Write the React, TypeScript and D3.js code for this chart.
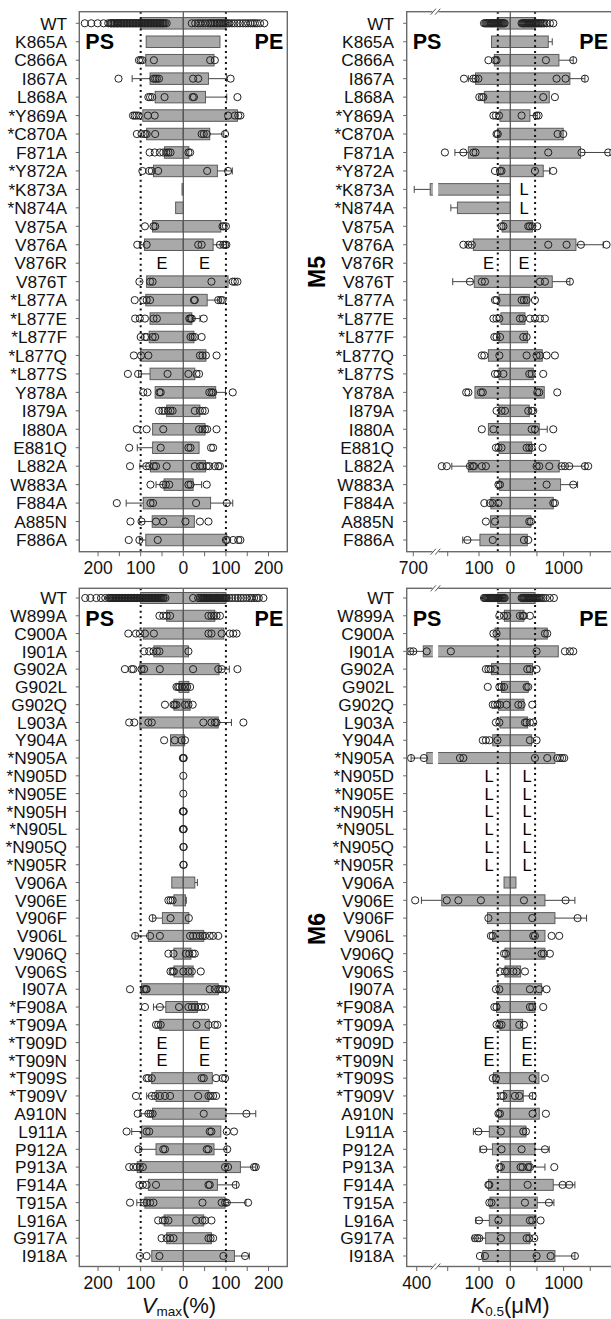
import { useEffect, useRef } from 'react'
import * as d3 from 'd3'

// ---- M5 rows ----
const M5_ROWS = ['WT', 'K865A', 'C866A', 'I867A', 'L868A', '*Y869A', '*C870A', 'F871A', '*Y872A', '*K873A', '*N874A', 'V875A', 'V876A', 'V876R', 'V876T', '*L877A', '*L877E', '*L877F', '*L877Q', '*L877S', 'Y878A', 'I879A', 'I880A', 'E881Q', 'L882A', 'W883A', 'F884A', 'A885N', 'F886A']

// Vmax (%) — PS side (left) and PE side (right)
const M5_V_PS = [100, 87, 88, 78, 66, 95, 86, 44, 70, 3, 18, 72, 91, 0, 86, 88, 78, 80, 100, 78, 66, 39, 72, 72, 77, 45, 94, 73, 88]
const M5_V_PS_SD = [0, 0, 0, 42, 0, 0, 0, 0, 0, 0, 0, 0, 12, 0, 0, 0, 0, 0, 0, 27, 0, 0, 0, 36, 25, 19, 40, 30, 15]
const M5_V_PS_PTS = [
  [231, 216, 201, 187, 176, 171, 169, 167, 164, 162, 160, 157, 155, 153, 151, 148, 146, 144, 141, 139, 137, 134, 132, 130, 127, 125, 123, 120, 118, 116, 113, 111, 109, 106, 104, 102, 99, 97, 95, 92, 90, 88, 85, 83, 81, 78, 76, 74, 71, 69, 67, 64, 62, 60, 57, 55, 53, 50, 48, 46, 43, 39],
  [], [104, 100, 96, 69], [152, 70, 66, 62, 57], [82, 78, 73, 44], [118, 114, 110, 105, 83, 67], [109, 98, 90, 86, 66],
  [79, 67, 55, 47, 40, 35, 30], [96, 80, 74, 59], [], [], [90, 70, 66], [108, 86], [], [103, 78, 72], [114, 94, 86, 78],
  [113, 102, 90, 70, 62], [100, 90, 86, 72, 66], [116, 99, 82], [130, 106, 37], [94, 84, 56, 53], [57, 49, 44, 36, 30, 25],
  [109, 86, 47], [127, 53], [125, 87, 80, 69, 64, 39], [77, 47, 41, 33], [156, 77, 71], [124, 98, 64, 47], [128, 103, 60],
]
const M5_V_PE = [100, 86, 72, 59, 52, 127, 62, 13, 80, 0, 0, 88, 70, 0, 105, 56, 20, 25, 53, 27, 76, 39, 51, 37, 52, 23, 64, 26, 102]
const M5_V_PE_SD = [0, 0, 0, 43, 50, 0, 33, 0, 35, 0, 0, 0, 31, 0, 0, 30, 19, 0, 0, 0, 23, 0, 0, 0, 0, 20, 52, 0, 0]
const M5_V_PE_PTS = [
  [20, 28, 35, 40, 46, 52, 58, 63, 66, 70, 74, 78, 81, 85, 88, 92, 96, 100, 104, 108, 114, 120, 127, 133, 140, 146, 152, 158, 163, 168, 173, 180, 190],
  [], [63, 74], [23, 35, 111], [22, 25, 127], [105, 121, 129, 134], [43, 48, 55, 98], [12, 16], [56, 105], [], [],
  [92, 95, 100], [35, 43, 86, 94, 98, 101], [], [66, 116, 121, 127], [25, 27, 82, 88, 92], [14, 17, 20, 48], [17, 22, 27, 43],
  [39, 45, 53, 78], [12, 31, 37], [61, 66, 70, 116], [27, 39, 45, 51], [37, 45, 51, 56, 78], [12, 17, 65, 70],
  [27, 39, 45, 55, 61, 74, 82, 86], [12, 17, 55], [30, 102], [5, 39, 59], [100, 103, 117, 129, 134],
]
const M5_V_NOTES: Record<string, [string, string]> = { V876R: ['E', 'E'] }

// K0.5 (µM)
const M5_K_PS = [40, 60, 51, 111, 83, 33, 40, 134, 33, 646, 169, 26, 118, 0, 115, 36, 30, 36, 70, 36, 113, 36, 70, 36, 134, 35, 62, 63, 97]
const M5_K_PS_SD = [0, 0, 0, 23, 0, 0, 0, 43, 0, 51, 21, 0, 21, 0, 69, 0, 0, 0, 0, 0, 0, 0, 0, 0, 53, 0, 0, 0, 55]
const M5_K_PS_PTS = [
  [84, 80, 77, 74, 71, 68, 65, 62, 60, 57, 54, 51, 48, 45, 42, 39, 36, 33, 30, 27, 24, 21, 18],
  [], [70, 49, 44], [148, 118, 111, 102], [99, 91, 86], [54, 46, 36], [44, 40], [209, 150, 118, 111], [49, 33, 28], [], [],
  [28, 22], [150, 134, 123], [], [129, 91, 81], [49, 44], [54, 44, 35], [51, 44, 33], [91, 83, 35], [49, 41, 22],
  [141, 134, 94, 88], [44, 28, 17], [91, 54], [46, 38, 28], [219, 203, 129, 120, 116, 91, 78], [38, 33], [83, 65, 56, 38],
  [78, 49], [137, 56],
]
const M5_K_PE = [465, 712, 912, 1118, 731, 368, 993, 1318, 618, 0, 0, 413, 1231, 0, 787, 356, 275, 325, 600, 431, 637, 356, 543, 400, 918, 943, 806, 387, 318]
const M5_K_PE_SD = [0, 75, 269, 282, 0, 138, 0, 550, 120, 0, 0, 0, 512, 0, 331, 0, 0, 0, 0, 0, 0, 0, 150, 0, 482, 319, 0, 0, 0]
const M5_K_PE_PTS = [
  [212, 232, 250, 268, 288, 306, 325, 345, 362, 381, 400, 420, 440, 458, 478, 497, 518, 540, 562, 588, 612, 640, 681, 743, 807],
  [], [668, 1181], [868, 1037, 1400], [618, 837], [212, 493, 531], [887, 993], [712, 1337, 1837], [462, 806], [], [],
  [337, 368, 413, 506], [712, 1056, 1325, 1806], [], [556, 650, 1118], [212, 256, 306, 462], [181, 231, 368, 462, 556, 650],
  [243, 306], [306, 493, 556, 681, 837], [356, 400, 618], [506, 543, 881], [337, 400, 431], [400, 462, 806],
  [306, 356, 400, 606], [493, 543, 731, 962, 1025, 1106, 1400, 1462], [681, 1181], [806, 837], [356, 387], [256, 337],
]
const M5_K_NOTES: Record<string, [string, string]> = { '*K873A': ['', 'L'], '*N874A': ['', 'L'], V876R: ['E', 'E'] }

// ---- M6 rows ----
const M6_ROWS = ['WT', 'W899A', 'C900A', 'I901A', 'G902A', 'G902L', 'G902Q', 'L903A', 'Y904A', '*N905A', '*N905D', '*N905E', '*N905H', '*N905L', '*N905Q', '*N905R', 'V906A', 'V906E', 'V906F', 'V906L', 'V906Q', 'V906S', 'I907A', '*F908A', '*T909A', '*T909D', '*T909N', '*T909S', '*T909V', 'A910N', 'L911A', 'P912A', 'P913A', 'F914A', 'T915A', 'L916A', 'G917A', 'I918A']

const M6_V_PS = [100, 39, 94, 69, 102, 10, 22, 102, 30, 0, 0, 0, 0, 0, 0, 0, 27, 22, 49, 82, 22, 22, 98, 41, 55, 0, 0, 74, 64, 72, 98, 64, 108, 82, 90, 45, 39, 74]
const M6_V_PS_SD = [0, 0, 0, 0, 0, 0, 0, 0, 0, 0, 0, 0, 0, 0, 0, 0, 0, 0, 23, 31, 0, 0, 0, 29, 0, 0, 0, 0, 22, 30, 23, 38, 0, 0, 19, 0, 0, 0]
const M6_V_PS_PTS = [
  [230, 218, 204, 193, 183, 175, 172, 170, 167, 165, 163, 160, 158, 156, 153, 151, 149, 146, 144, 142, 139, 137, 135, 132, 130, 128, 125, 123, 121, 118, 116, 114, 111, 109, 107, 104, 102, 100, 97, 95, 93, 90, 88, 86, 83, 81, 79, 76, 74, 72, 69, 67, 65, 62, 60, 58, 55, 53, 51, 48, 46, 42],
  [56, 47, 39, 31], [129, 111, 102, 90, 69], [92, 80, 70, 62, 56], [137, 121, 117, 98, 92, 55], [16, 12, 9, 3],
  [43, 23, 20, 16], [127, 115, 82, 74], [45, 20, 4], [1, 0], [0], [0], [1, 0], [1, 0], [0], [0], [],
  [35, 30, 25], [72, 30], [113, 78, 55], [35, 23], [30, 25, 22], [125, 92, 88, 86], [90, 55, 10], [64, 59, 53], [], [],
  [86, 82, 74], [111, 74, 66, 55, 43, 31], [107, 82, 77, 72], [133, 86, 80], [105, 47, 43], [127, 117, 109, 102, 95],
  [103, 95, 86, 64], [125, 92, 86, 78, 70], [59, 48, 43, 35], [51, 39, 31, 23], [102, 86, 56],
]
const M6_V_PE = [100, 74, 95, 12, 84, 13, 16, 82, 3, 0, 0, 0, 0, 0, 0, 0, 27, 5, 13, 48, 18, 23, 82, 33, 61, 0, 0, 68, 60, 100, 88, 72, 134, 80, 98, 48, 66, 120]
const M6_V_PE_SD = [0, 0, 0, 0, 24, 0, 0, 31, 0, 0, 0, 0, 0, 0, 0, 0, 6, 2, 0, 0, 0, 0, 0, 0, 0, 0, 0, 0, 0, 70, 0, 30, 36, 45, 49, 0, 0, 35]
const M6_V_PE_PTS = [
  [23, 35, 40, 43, 46, 48, 50, 52, 54, 56, 58, 60, 62, 64, 66, 68, 70, 72, 74, 76, 78, 80, 82, 84, 86, 88, 90, 92, 94, 96, 98, 100, 102, 108, 115, 122, 128, 135, 141, 148, 155, 160, 166, 172, 177, 188],
  [59, 66, 72, 78, 86], [59, 66, 90, 109, 117, 125], [12], [23, 82, 90, 127], [4, 9, 16], [4, 12, 22], [47, 66, 74, 78, 141],
  [4], [1], [], [], [1], [1], [1], [1], [], [], [13], [16, 23, 31, 39, 45, 51, 62, 70, 82], [6, 14, 22, 27], [0, 12, 20, 41],
  [62, 74, 82, 86, 92, 100], [12, 20, 27, 35, 43, 51], [31, 59, 74, 80], [], [], [43, 48, 77, 92, 98], [35, 59, 64, 70, 77],
  [48, 148], [62, 66, 102, 119], [55, 59, 103], [98, 105, 166, 170], [59, 62, 123], [45, 90, 98, 102, 152], [30, 45, 51, 66],
  [59, 64, 70], [94, 145],
]
const M6_V_NOTES: Record<string, [string, string]> = { '*T909D': ['E', 'E'], '*T909N': ['E', 'E'] }

const M6_K_PS = [40, 19, 49, 379, 60, 28, 38, 33, 56, 368, 0, 0, 0, 0, 0, 0, 20, 219, 73, 57, 17, 17, 41, 44, 33, 0, 0, 54, 22, 38, 67, 57, 30, 70, 65, 67, 79, 88]
const M6_K_PS_SD = [0, 0, 0, 49, 0, 0, 0, 0, 0, 50, 0, 0, 0, 0, 0, 0, 0, 166, 0, 0, 0, 0, 0, 0, 0, 0, 0, 0, 0, 0, 51, 40, 0, 0, 0, 43, 41, 0]
const M6_K_PS_PTS = [
  [84, 81, 78, 75, 72, 69, 66, 63, 60, 57, 54, 51, 48, 45, 42, 39, 36, 33, 30, 27, 24, 21, 18],
  [35, 20, 10], [54, 44], [421, 411, 368, 190], [78, 70, 63, 49], [72, 35, 28, 20], [56, 49, 41, 33, 12], [46, 35],
  [88, 78, 67, 41], [418, 377, 161, 150], [], [], [], [], [], [], [], [405, 203, 166, 94], [70], [62, 56], [20, 14],
  [33, 17, 10], [46, 35], [51, 44], [44, 35, 28], [], [], [56, 46], [28, 22], [38, 33], [102, 30], [86, 28], [35, 30],
  [70, 67], [67, 60], [100, 38], [113, 105, 99, 30], [97, 81],
]
const M6_K_PE = [465, 256, 693, 900, 419, 337, 256, 325, 400, 837, 0, 0, 0, 0, 0, 0, 106, 650, 837, 650, 650, 193, 587, 462, 231, 0, 0, 537, 243, 543, 293, 462, 387, 806, 506, 481, 368, 837]
const M6_K_PE_SD = [0, 0, 0, 0, 0, 0, 0, 0, 0, 0, 0, 0, 0, 0, 0, 0, 0, 562, 594, 0, 0, 0, 0, 0, 0, 0, 0, 0, 175, 0, 0, 269, 263, 406, 312, 0, 0, 375]
const M6_K_PE_PTS = [
  [212, 230, 249, 266, 285, 303, 322, 340, 358, 377, 396, 415, 433, 452, 471, 490, 510, 532, 556, 585, 620, 665, 740, 818],
  [181, 231, 256, 368], [650, 693], [493, 1025, 1118, 1181], [318, 368, 493], [306, 337], [150, 212, 412],
  [275, 306, 368, 431], [368, 493], [462, 693, 881, 931, 975, 1012], [], [], [], [], [], [], [], [256, 1037], [412, 1262],
  [431, 462, 775, 918], [587, 631, 743], [56, 118, 275], [368, 543, 681], [368, 412, 618], [168, 256], [], [],
  [418, 650], [87, 168, 418], [418, 668], [243, 293], [212, 650], [193, 231, 337, 368, 825], [325, 981, 1106],
  [275, 725], [368, 412, 568], [306, 356, 450], [493, 756, 1212],
]
const M6_K_NOTES: Record<string, [string, string]> = {
  '*N905D': ['L', 'L'], '*N905E': ['L', 'L'], '*N905H': ['L', 'L'], '*N905L': ['L', 'L'],
  '*N905Q': ['L', 'L'], '*N905R': ['L', 'L'], '*T909D': ['E', 'E'], '*T909N': ['E', 'E'],
}

// reference (WT) lines and axis ticks
const V_REF = [100, 100]
const K_REF = [40, 465]
const V_TICKS_PS = [0, 50, 100, 150, 200]
const V_TICKS_PE = [50, 100, 150, 200]
const V_LABELS_PS = [0, 100, 200]
const V_LABELS_PE = [100, 200]
const M5_K_TICKS_PS = [0, 100, 200, 700]
const M5_K_LABELS_PS = [0, 100, 700]
const M6_K_TICKS_PS = [0, 100, 200, 400]
const M6_K_LABELS_PS = [0, 100, 400]
const K_TICKS_PE = [500, 1000, 1500]
const K_LABELS_PE = [1000]

const FONT = '"Liberation Sans", Arial, Helvetica, sans-serif'

type Sel = d3.Selection<SVGGElement, unknown, null, undefined>

interface PanelCfg {
  rows: string[]
  yFirst: number
  yLast: number
  left: number
  right: number
  top: number
  bottom: number
  ps: (v: number) => number
  pe: (v: number) => number
  psMean: number[]
  psSd: number[]
  psPts: number[][]
  peMean: number[]
  peSd: number[]
  pePts: number[][]
  refs: number[]
  notes: Record<string, [string, string]>
  notePos: [number, number]
  ticksPs: number[]
  labelsPs: number[]
  ticksPe: number[]
  labelsPe: number[]
  labelX: number
  barH: number
  brkX?: number
  brkV?: number
  tag?: string
  tagY?: number
}

function drawPanel(root: Sel, p: PanelCfg) {
  const g = root.append('g')
  const y = d3.scalePoint<string>().domain(p.rows).range([p.yFirst, p.yLast])
  const xc = p.ps(0)

  // row labels + ticks
  p.rows.forEach((r) => {
    const yy = y(r) as number
    g.append('line')
      .attr('x1', p.left - 3.5).attr('x2', p.left)
      .attr('y1', yy).attr('y2', yy)
      .attr('stroke', '#666').attr('stroke-width', 1)
    g.append('text')
      .attr('x', p.labelX).attr('y', yy).attr('dy', '0.36em')
      .attr('text-anchor', 'end')
      .style('font-family', FONT).style('font-size', '17.3px').style('fill', '#111')
      .text(r)
  })

  // bars
  p.rows.forEach((r, i) => {
    const yy = y(r) as number
    if (p.psMean[i] > 0) {
      const x1 = p.ps(p.psMean[i])
      g.append('rect')
        .attr('x', x1).attr('y', yy - p.barH / 2)
        .attr('width', xc - x1).attr('height', p.barH)
        .attr('fill', '#a9a9a9').attr('stroke', '#5c5c5c').attr('stroke-width', 1)
    }
    if (p.peMean[i] > 0) {
      const x2 = p.pe(p.peMean[i])
      g.append('rect')
        .attr('x', xc).attr('y', yy - p.barH / 2)
        .attr('width', x2 - xc).attr('height', p.barH)
        .attr('fill', '#a9a9a9').attr('stroke', '#5c5c5c').attr('stroke-width', 1)
    }
    // axis break gap on bars that cross it
    if (p.brkX !== undefined && p.brkV !== undefined && p.psMean[i] > p.brkV) {
      g.append('rect')
        .attr('x', p.brkX - 2.6).attr('y', yy - p.barH / 2 - 1)
        .attr('width', 5.2).attr('height', p.barH + 2)
        .attr('fill', '#fff')
    }
  })

  // whiskers
  const whisk = (xa: number, xb: number, yy: number) => {
    g.append('line').attr('x1', xa).attr('x2', xb).attr('y1', yy).attr('y2', yy)
      .attr('stroke', '#444').attr('stroke-width', 1)
    g.append('line').attr('x1', xb).attr('x2', xb).attr('y1', yy - 3.5).attr('y2', yy + 3.5)
      .attr('stroke', '#444').attr('stroke-width', 1)
  }
  p.rows.forEach((r, i) => {
    const yy = y(r) as number
    if (p.psSd[i] > 0) whisk(p.ps(p.psMean[i]), p.ps(p.psMean[i] + p.psSd[i]), yy)
    if (p.peSd[i] > 0) whisk(p.pe(p.peMean[i]), p.pe(p.peMean[i] + p.peSd[i]), yy)
  })

  // center + reference lines
  g.append('line').attr('x1', xc).attr('x2', xc).attr('y1', p.top).attr('y2', p.bottom)
    .attr('stroke', '#555').attr('stroke-width', 1.2)
  ;[p.ps(p.refs[0]), p.pe(p.refs[1])].forEach((xx) => {
    g.append('line').attr('x1', xx).attr('x2', xx).attr('y1', p.top).attr('y2', p.bottom)
      .attr('stroke', '#111').attr('stroke-width', 2).attr('stroke-dasharray', '2 3.6')
  })

  // notes (E / L)
  p.rows.forEach((r) => {
    const n = p.notes[r]
    if (!n) return
    const yy = y(r) as number
    if (n[0]) g.append('text').attr('x', p.ps(p.notePos[0])).attr('y', yy).attr('dy', '0.36em')
      .attr('text-anchor', 'middle').style('font-family', FONT).style('font-size', '16.5px').text(n[0])
    if (n[1]) g.append('text').attr('x', p.pe(p.notePos[1])).attr('y', yy).attr('dy', '0.36em')
      .attr('text-anchor', 'middle').style('font-family', FONT).style('font-size', '16.5px').text(n[1])
  })

  // data points
  p.rows.forEach((r, i) => {
    const yy = y(r) as number
    const pts = [
      ...p.psPts[i].map((v) => p.ps(v)),
      ...p.pePts[i].map((v) => p.pe(v)),
    ]
    g.append('g').selectAll('circle').data(pts).enter().append('circle')
      .attr('cx', (d) => d).attr('cy', yy).attr('r', 3.6)
      .attr('fill', 'none').attr('stroke', '#222').attr('stroke-width', 1)
  })

  // frame
  g.append('rect').attr('x', p.left).attr('y', p.top)
    .attr('width', p.right - p.left).attr('height', p.bottom - p.top)
    .attr('fill', 'none').attr('stroke', '#6a6a6a').attr('stroke-width', 1.4)

  // x ticks
  const tick = (xx: number, lab: string | null) => {
    g.append('line').attr('x1', xx).attr('x2', xx).attr('y1', p.bottom).attr('y2', p.bottom + 4.5)
      .attr('stroke', '#666').attr('stroke-width', 1)
    if (lab !== null) g.append('text').attr('x', xx).attr('y', p.bottom + 22)
      .attr('text-anchor', 'middle').style('font-family', FONT).style('font-size', '17.5px').style('fill', '#111')
      .text(lab)
  }
  p.ticksPs.forEach((v) => tick(p.ps(v), p.labelsPs.includes(v) ? String(v) : null))
  p.ticksPe.forEach((v) => tick(p.pe(v), p.labelsPe.includes(v) ? String(v) : null))

  // axis break marks
  if (p.brkX !== undefined) {
    const bx = p.brkX
    ;[p.top, p.bottom].forEach((yy) => {
      g.append('rect').attr('x', bx - 3).attr('y', yy - 2).attr('width', 6).attr('height', 4).attr('fill', '#fff')
      ;[-2.2, 2.2].forEach((o) => {
        g.append('line').attr('x1', bx + o - 2.6).attr('x2', bx + o + 2.6)
          .attr('y1', yy + 3).attr('y2', yy - 3).attr('stroke', '#555').attr('stroke-width', 1)
      })
    })
  }

  // PS / PE labels
  const tagY = p.top + 37.5
  g.append('text').attr('x', p.left + 6).attr('y', tagY)
    .style('font-family', FONT).style('font-size', '21.5px').style('font-weight', '700').text('PS')
  g.append('text').attr('x', Math.min(p.right - 4, 608)).attr('y', tagY).attr('text-anchor', 'end')
    .style('font-family', FONT).style('font-size', '21.5px').style('font-weight', '700').text('PE')

  if (p.tag) {
    g.append('text').attr('transform', `translate(325,${p.tagY}) rotate(-90)`)
      .attr('text-anchor', 'middle')
      .style('font-family', FONT).style('font-size', '23px').style('font-weight', '700').text(p.tag)
  }
}

const App = () => {
  const ref = useRef<SVGSVGElement>(null)

  useEffect(() => {
    if (!ref.current) return
    const svg = d3.select(ref.current)
    svg.selectAll('*').remove()
    const root = svg.append('g') as unknown as Sel

    // Vmax scales (left column)
    const vPs = d3.scaleLinear().domain([0, 244]).range([183.3, 79.3])
    const vPe = d3.scaleLinear().domain([0, 244]).range([183.3, 287.3])
    // K0.5 scales (right column) – PS side has an axis break
    const kPe = d3.scaleLinear().domain([0, 2000]).range([510.3, 510.3 + 2000 * 0.0533])
    const kPs5 = d3.scaleLinear().domain([0, 240, 630, 760]).range([510.3, 435.2, 435.2, 394.5])
    const kPs6 = d3.scaleLinear().domain([0, 240, 341, 471]).range([510.3, 435.2, 435.2, 394.5])

    const m5 = { rows: M5_ROWS, yFirst: 23.3, yLast: 540, top: 11.7, bottom: 551.7, barH: 11.5 }
    const m6 = { rows: M6_ROWS, yFirst: 598, yLast: 1256, top: 588.3, bottom: 1266.5, barH: 11 }
    const left = { left: 79.3, right: 287.3, ps: vPs, pe: vPe, refs: V_REF, labelX: 67, ticksPs: V_TICKS_PS, labelsPs: V_LABELS_PS, ticksPe: V_TICKS_PE, labelsPe: V_LABELS_PE, notePos: [50, 50] as [number, number] }
    const right = { left: 406.7, right: 660, pe: kPe, refs: K_REF, labelX: 394, ticksPe: K_TICKS_PE, labelsPe: K_LABELS_PE, brkX: 435.5, brkV: 240 }

    drawPanel(root, { ...m5, ...left, psMean: M5_V_PS, psSd: M5_V_PS_SD, psPts: M5_V_PS_PTS, peMean: M5_V_PE, peSd: M5_V_PE_SD, pePts: M5_V_PE_PTS, notes: M5_V_NOTES })
    drawPanel(root, { ...m6, ...left, psMean: M6_V_PS, psSd: M6_V_PS_SD, psPts: M6_V_PS_PTS, peMean: M6_V_PE, peSd: M6_V_PE_SD, pePts: M6_V_PE_PTS, notes: M6_V_NOTES })
    drawPanel(root, { ...m5, ...right, ps: kPs5, ticksPs: M5_K_TICKS_PS, labelsPs: M5_K_LABELS_PS, notePos: [70, 257], psMean: M5_K_PS, psSd: M5_K_PS_SD, psPts: M5_K_PS_PTS, peMean: M5_K_PE, peSd: M5_K_PE_SD, pePts: M5_K_PE_PTS, notes: M5_K_NOTES, tag: 'M5', tagY: 272 })
    drawPanel(root, { ...m6, ...right, ps: kPs6, ticksPs: M6_K_TICKS_PS, labelsPs: M6_K_LABELS_PS, notePos: [68, 315], psMean: M6_K_PS, psSd: M6_K_PS_SD, psPts: M6_K_PS_PTS, peMean: M6_K_PE, peSd: M6_K_PE_SD, pePts: M6_K_PE_PTS, notes: M6_K_NOTES, tag: 'M6', tagY: 929 })

    // axis titles (subscript kept inside the picture)
    const vt = svg.append('text').attr('x', 179).attr('y', 1312.5).attr('text-anchor', 'middle')
      .style('font-family', FONT).style('font-size', '22px').style('fill', '#111')
    vt.append('tspan').style('font-style', 'italic').text('V')
    vt.append('tspan').attr('dy', 3).style('font-size', '13.5px').text('max')
    vt.append('tspan').attr('dy', -3).text('(%)')

    const kt = svg.append('text').attr('x', 510).attr('y', 1312.5).attr('text-anchor', 'middle')
      .style('font-family', FONT).style('font-size', '22px').style('fill', '#111')
    kt.append('tspan').style('font-style', 'italic').text('K')
    kt.append('tspan').attr('dy', 3).style('font-size', '13.5px').text('0.5')
    kt.append('tspan').attr('dy', -3).text('(μM)')
  }, [])

  return (
    <svg
      ref={ref}
      width={611}
      height={1319}
      style={{ position: 'absolute', left: 0, top: 0, background: '#fff' }}
    />
  )
}

export default App
